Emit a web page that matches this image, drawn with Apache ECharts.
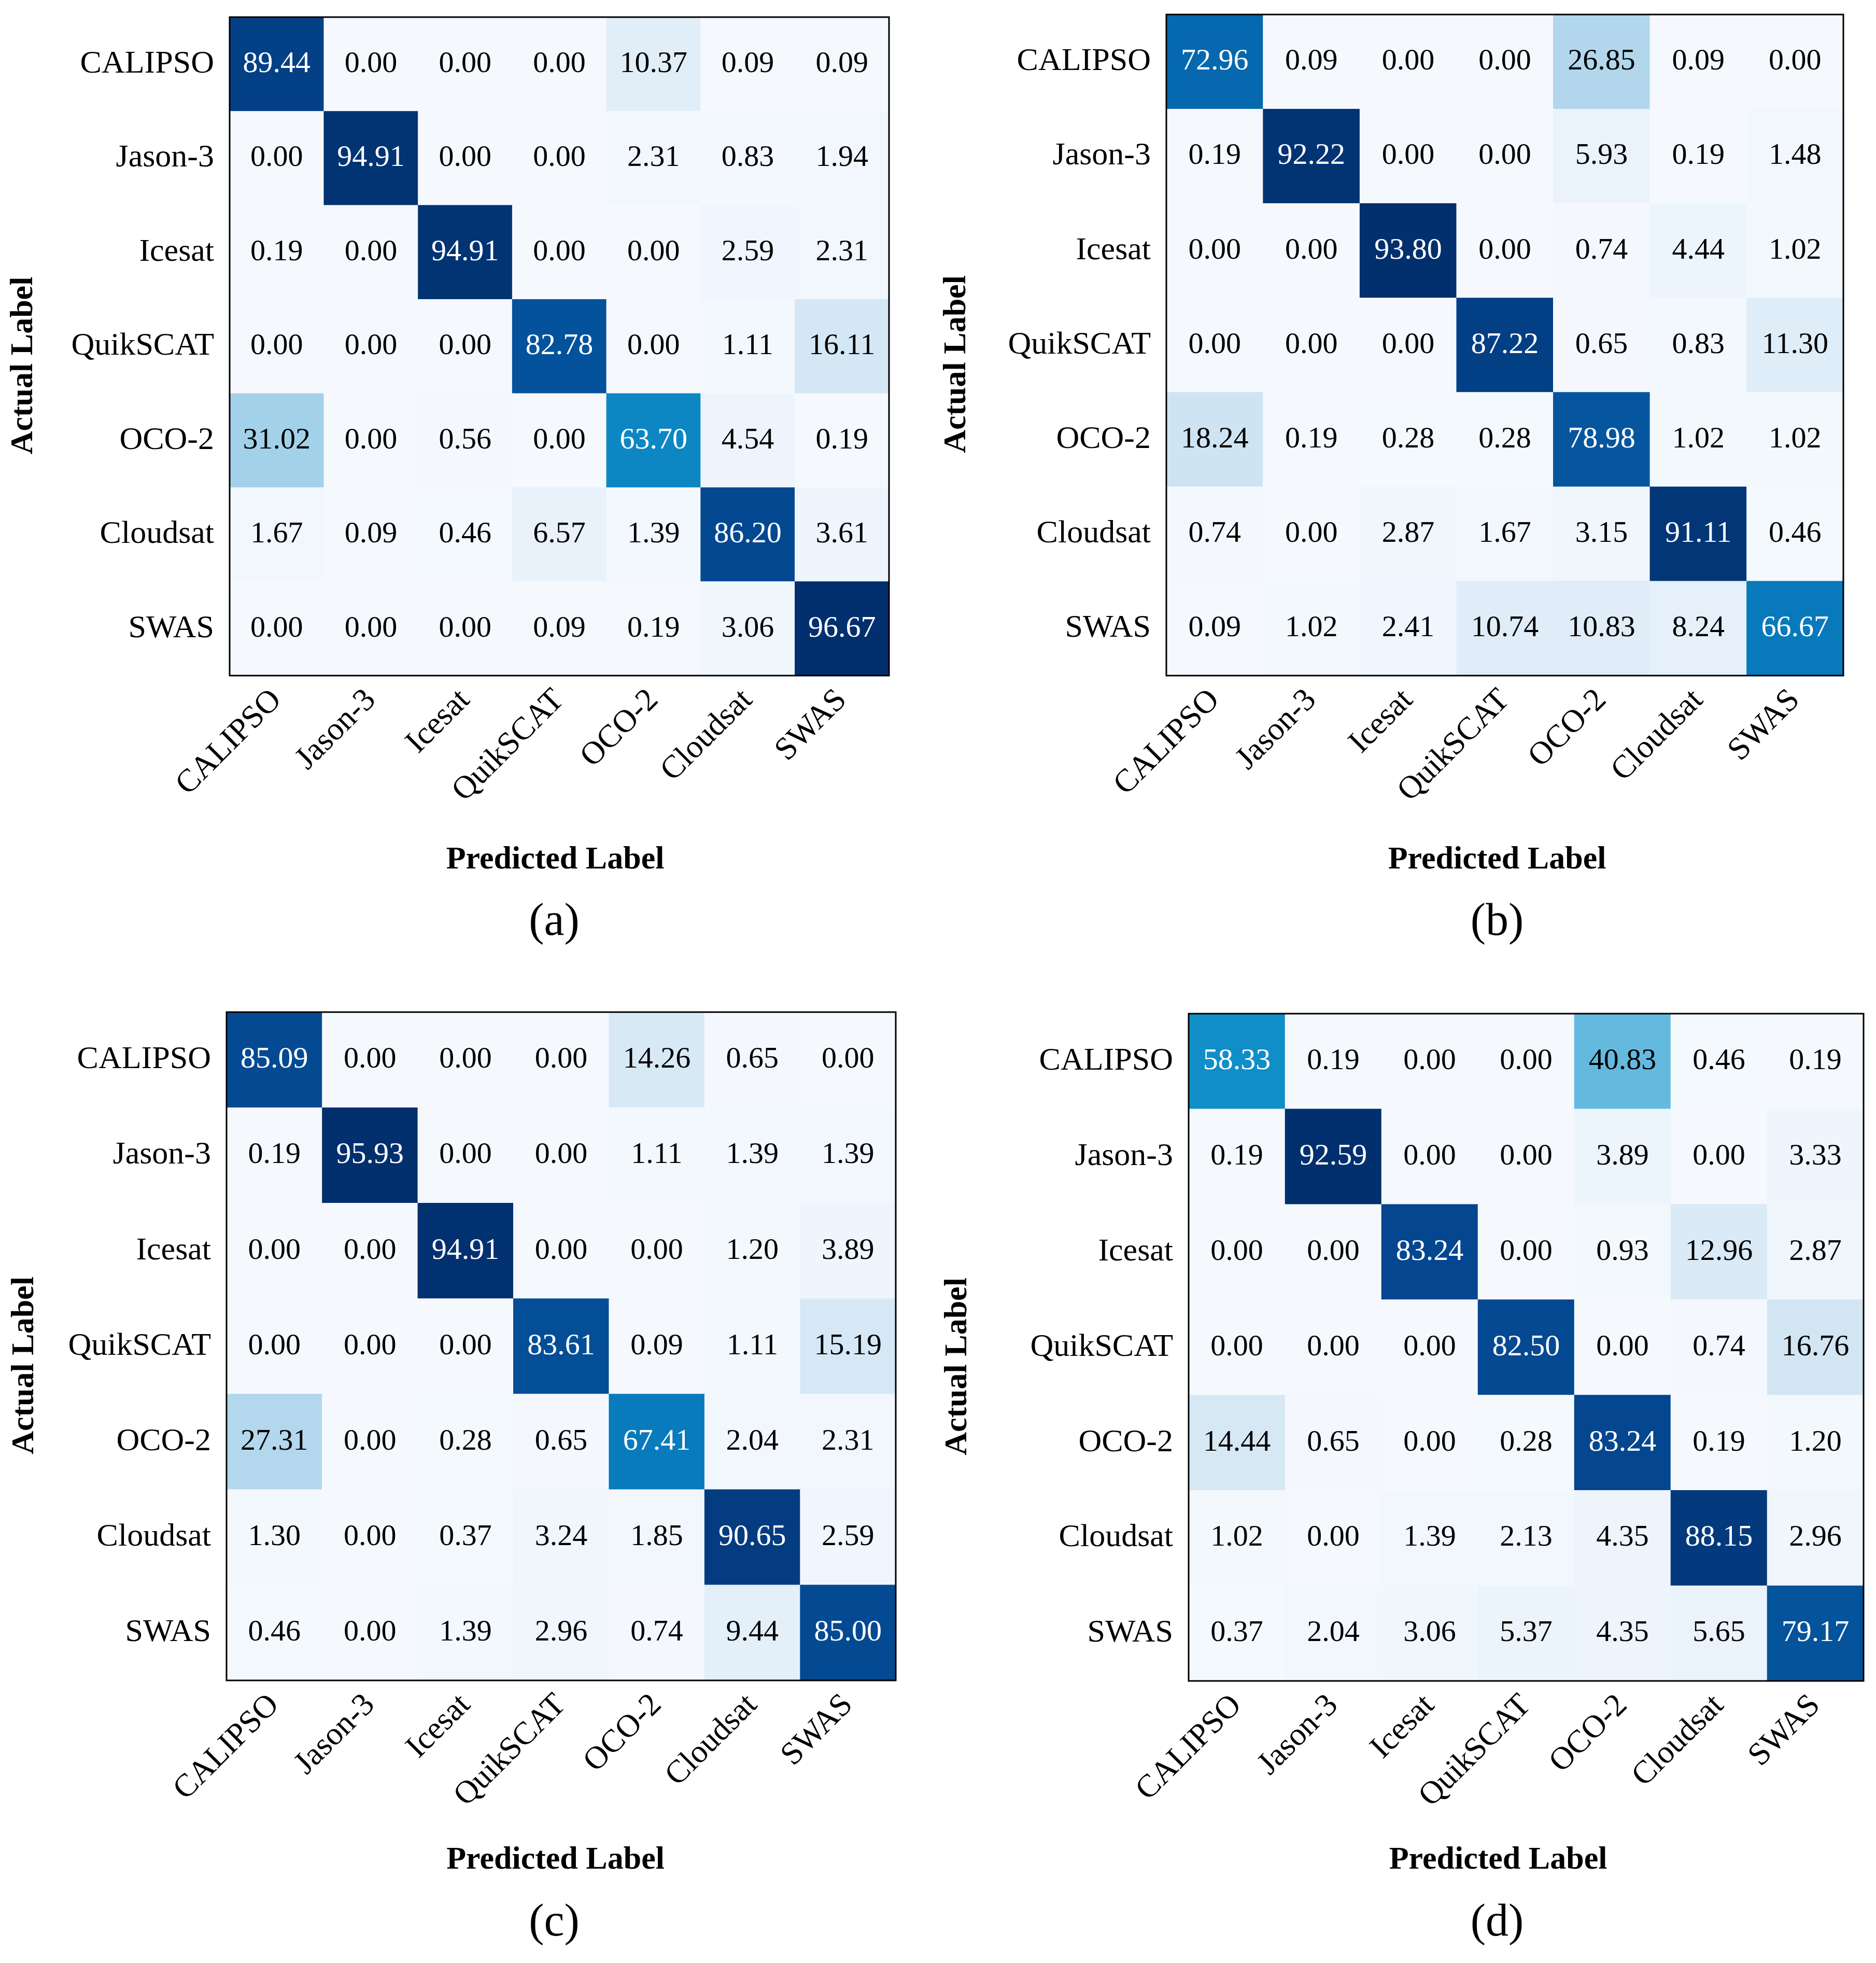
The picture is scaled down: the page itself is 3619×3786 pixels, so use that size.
<!DOCTYPE html>
<html>
<head>
<meta charset="utf-8">
<script src="https://cdn.jsdelivr.net/npm/echarts@6/dist/echarts.min.js"></script>
<style>
html, body { margin: 0; background: #fff; }
#main { width: 3619px; height: 3786px; }
</style>
</head>
<body>
<div id="main"></div>
<script>
var classes = ['CALIPSO', 'Jason-3', 'Icesat', 'QuikSCAT', 'OCO-2', 'Cloudsat', 'SWAS'];

// rows = actual label, columns = predicted label (percent)
var cmA = [
    [89.44, 0.00, 0.00, 0.00, 10.37, 0.09, 0.09],
    [0.00, 94.91, 0.00, 0.00, 2.31, 0.83, 1.94],
    [0.19, 0.00, 94.91, 0.00, 0.00, 2.59, 2.31],
    [0.00, 0.00, 0.00, 82.78, 0.00, 1.11, 16.11],
    [31.02, 0.00, 0.56, 0.00, 63.70, 4.54, 0.19],
    [1.67, 0.09, 0.46, 6.57, 1.39, 86.20, 3.61],
    [0.00, 0.00, 0.00, 0.09, 0.19, 3.06, 96.67]
];
var cmB = [
    [72.96, 0.09, 0.00, 0.00, 26.85, 0.09, 0.00],
    [0.19, 92.22, 0.00, 0.00, 5.93, 0.19, 1.48],
    [0.00, 0.00, 93.80, 0.00, 0.74, 4.44, 1.02],
    [0.00, 0.00, 0.00, 87.22, 0.65, 0.83, 11.30],
    [18.24, 0.19, 0.28, 0.28, 78.98, 1.02, 1.02],
    [0.74, 0.00, 2.87, 1.67, 3.15, 91.11, 0.46],
    [0.09, 1.02, 2.41, 10.74, 10.83, 8.24, 66.67]
];
var cmC = [
    [85.09, 0.00, 0.00, 0.00, 14.26, 0.65, 0.00],
    [0.19, 95.93, 0.00, 0.00, 1.11, 1.39, 1.39],
    [0.00, 0.00, 94.91, 0.00, 0.00, 1.20, 3.89],
    [0.00, 0.00, 0.00, 83.61, 0.09, 1.11, 15.19],
    [27.31, 0.00, 0.28, 0.65, 67.41, 2.04, 2.31],
    [1.30, 0.00, 0.37, 3.24, 1.85, 90.65, 2.59],
    [0.46, 0.00, 1.39, 2.96, 0.74, 9.44, 85.00]
];
var cmD = [
    [58.33, 0.19, 0.00, 0.00, 40.83, 0.46, 0.19],
    [0.19, 92.59, 0.00, 0.00, 3.89, 0.00, 3.33],
    [0.00, 0.00, 83.24, 0.00, 0.93, 12.96, 2.87],
    [0.00, 0.00, 0.00, 82.50, 0.00, 0.74, 16.76],
    [14.44, 0.65, 0.00, 0.28, 83.24, 0.19, 1.20],
    [1.02, 0.00, 1.39, 2.13, 4.35, 88.15, 2.96],
    [0.37, 2.04, 3.06, 5.37, 4.35, 5.65, 79.17]
];
var captions = ['(a)', '(b)', '(c)', '(d)'];

// blue ramp as it looks in the figure (a little more cyan than plain Blues)
var blues = ['#f5f9fe', '#e3eff9', '#cde3f2', '#aed5eb', '#78c3e2', '#47aed9',
             '#1496cc', '#087cbd', '#0562aa', '#04468f', '#022f6d'];

var FONT = "'Liberation Serif', 'Times New Roman', serif";

// xShift: how far "Predicted Label" sits left of the grid centre
var panels = [
    { m: cmA, left: 443,  top: 33,   width: 1272, height: 1270, xGap: 325, xShift: 8,  yGap: 366, capX: 1069, capY: 1780 },
    { m: cmB, left: 2250, top: 28,   width: 1306, height: 1275, xGap: 325, xShift: 15, yGap: 373, capX: 2888, capY: 1780 },
    { m: cmC, left: 437,  top: 1952, width: 1291, height: 1289, xGap: 316, xShift: 11, yGap: 358, capX: 1069, capY: 3710 },
    { m: cmD, left: 2293, top: 1955, width: 1302, height: 1287, xGap: 315, xShift: 54, yGap: 414, capX: 2888, capY: 3710 }
];

var grid = [], xAxis = [], yAxis = [], series = [], visualMap = [], graphic = [];

panels.forEach(function (p, k) {
    var max = 0;
    p.m.forEach(function (row) { row.forEach(function (v) { if (v > max) max = v; }); });

    var data = [];
    p.m.forEach(function (row, i) {
        row.forEach(function (v, j) {
            data.push({ value: [j, i, v], label: { color: v > max / 2 ? '#ffffff' : '#000000' } });
        });
    });

    grid.push({
        left: p.left, top: p.top, width: p.width, height: p.height,
        show: true, borderColor: '#000', borderWidth: 3, backgroundColor: 'transparent', z: 5
    });

    xAxis.push({
        type: 'category', gridIndex: k, data: classes, position: 'bottom',
        axisLine: { show: false },
        axisTick: { alignWithLabel: true, length: 15, lineStyle: { color: '#000', width: 3 } },
        axisLabel: { rotate: 45, interval: 0, margin: 38, padding: [36, 0, 0, 0], fontSize: 62, fontFamily: FONT, color: '#000' },
        splitLine: { show: false },
        name: 'Predicted Label', nameLocation: 'middle', nameGap: p.xGap,
        nameTextStyle: { fontSize: 62, fontWeight: 'bold', fontFamily: FONT, color: '#000', padding: [0, 2 * p.xShift, 0, 0] }
    });

    yAxis.push({
        type: 'category', gridIndex: k, data: classes, inverse: true,
        axisLine: { show: false },
        axisTick: { alignWithLabel: true, length: 15, lineStyle: { color: '#000', width: 3 } },
        axisLabel: { interval: 0, margin: 30, fontSize: 62, fontFamily: FONT, color: '#000' },
        splitLine: { show: false },
        name: 'Actual Label', nameLocation: 'middle', nameGap: p.yGap, nameRotate: 90,
        nameTextStyle: { fontSize: 62, fontWeight: 'bold', fontFamily: FONT, color: '#000', padding: [0, 74, 0, 0] }
    });

    visualMap.push({
        type: 'continuous', show: false, seriesIndex: k, dimension: 2,
        min: 0, max: max, inRange: { color: blues }
    });

    series.push({
        type: 'heatmap', xAxisIndex: k, yAxisIndex: k, data: data,
        label: {
            show: true, fontSize: 58, fontFamily: FONT,
            formatter: function (pr) { return pr.value[2].toFixed(2); }
        },
        itemStyle: { borderWidth: 0 },
        emphasis: { disabled: true }
    });

    graphic.push({
        type: 'text', x: p.capX, y: p.capY,
        style: { text: captions[k], font: '88px ' + FONT, fill: '#000', align: 'center', verticalAlign: 'middle' }
    });
});

var myChart = echarts.init(document.getElementById('main'));
var option = {
    backgroundColor: '#ffffff',
    animation: false,
    grid: grid,
    xAxis: xAxis,
    yAxis: yAxis,
    visualMap: visualMap,
    series: series,
    graphic: graphic
};
myChart.setOption(option);
</script>
</body>
</html>
